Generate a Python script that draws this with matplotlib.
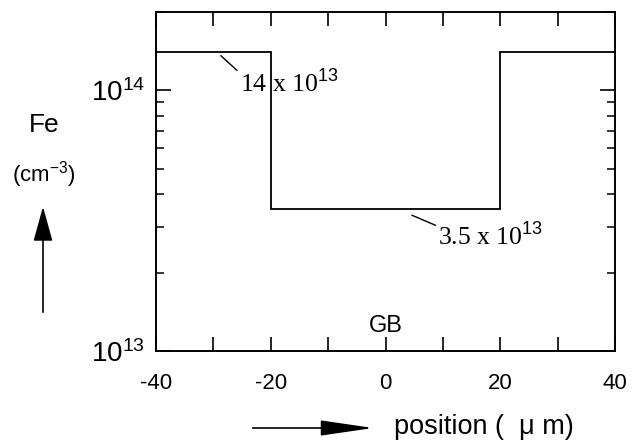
import matplotlib
matplotlib.use('Agg')
import matplotlib.pyplot as plt
from matplotlib.patches import FancyArrowPatch
from matplotlib.ticker import LogLocator, FixedLocator, NullFormatter

# data
edges = [-40, -20, 20, 40]
fe_conc = [1.4e14, 3.5e13, 1.4e14]
x_ticks = [-40, -20, 0, 20, 40]
x_minor = [-30, -10, 10, 30]

plt.rcParams['font.family'] = ['Liberation Sans', 'DejaVu Sans']
plt.rcParams['mathtext.fontset'] = 'custom'
plt.rcParams['mathtext.rm'] = 'Liberation Sans'
plt.rcParams['mathtext.it'] = 'Liberation Sans'

W, H = 632, 443
fig = plt.figure(figsize=(W / 100, H / 100), dpi=100)
ax = fig.add_axes([156 / W, 1 - 351 / H, (615 - 156) / W, (351 - 12) / H])

ax.stairs(fe_conc, edges, baseline=None, color='black', lw=1.3)

ax.set_yscale('log')
ax.set_xlim(-40, 40)
ax.set_ylim(1e13, 2e14)

ax.xaxis.set_major_locator(FixedLocator(x_ticks))
ax.xaxis.set_minor_locator(FixedLocator(x_minor))
ax.set_xticklabels([str(t) for t in x_ticks])
ax.yaxis.set_major_locator(FixedLocator([1e13, 1e14]))
ax.set_yticklabels(['$10^{13}$', '$10^{14}$'])
ax.yaxis.set_minor_locator(LogLocator(base=10, subs=range(2, 10)))
ax.yaxis.set_minor_formatter(NullFormatter())

ax.tick_params(axis='x', which='both', direction='in', top=True, length=10,
               width=1.2, labelsize=16, pad=16)
ax.tick_params(axis='y', which='major', direction='in', right=True, length=11,
               width=1.2, labelsize=20, pad=8)
ax.tick_params(axis='y', which='minor', direction='in', right=True, length=6,
               width=1.1)
for s in ax.spines.values():
    s.set_linewidth(1.4)

# annotations on the curve
ax.annotate('14 x 10$^{13}$', xy=(-28.7, 1.36e14), xytext=(-25.4, 1.06e14),
            fontsize=18.5, family='Liberation Serif', va='center', ha='left',
            arrowprops=dict(arrowstyle='-', color='black', lw=1,
                            shrinkA=0, shrinkB=0, relpos=(0, 0.9)))
ax.annotate('3.5 x 10$^{13}$', xy=(4.6, 3.32e13), xytext=(9.2, 2.73e13),
            fontsize=18.5, family='Liberation Serif', va='center', ha='left',
            arrowprops=dict(arrowstyle='-', color='black', lw=1,
                            shrinkA=0, shrinkB=0, relpos=(0, 0.9)))
ax.text(0, 1.25e13, 'GB', fontsize=17, ha='center', va='center')

# axis labels with arrows
fig.text(44 / W, 1 - 125 / H, 'Fe', fontsize=19, ha='center', va='center')
fig.text(44 / W, 1 - 175 / H, '(cm$^{-3}$)', fontsize=16, ha='center', va='center')
fig.add_artist(FancyArrowPatch(
    (43 / W, 1 - 315 / H), (43 / W, 1 - 204 / H), transform=fig.transFigure,
    arrowstyle='-|>,head_length=7.2,head_width=2', mutation_scale=3,
    color='black', lw=1.2))
fig.add_artist(FancyArrowPatch(
    (250 / W, 1 - 428 / H), (376 / W, 1 - 428 / H), transform=fig.transFigure,
    arrowstyle='-|>,head_length=11,head_width=1.6', mutation_scale=3,
    color='black', lw=1.2))
fig.text(394 / W, 1 - 427 / H, 'position (  μ m)', fontsize=19.5, ha='left', va='center')

fig.savefig('out.png', dpi=100)
